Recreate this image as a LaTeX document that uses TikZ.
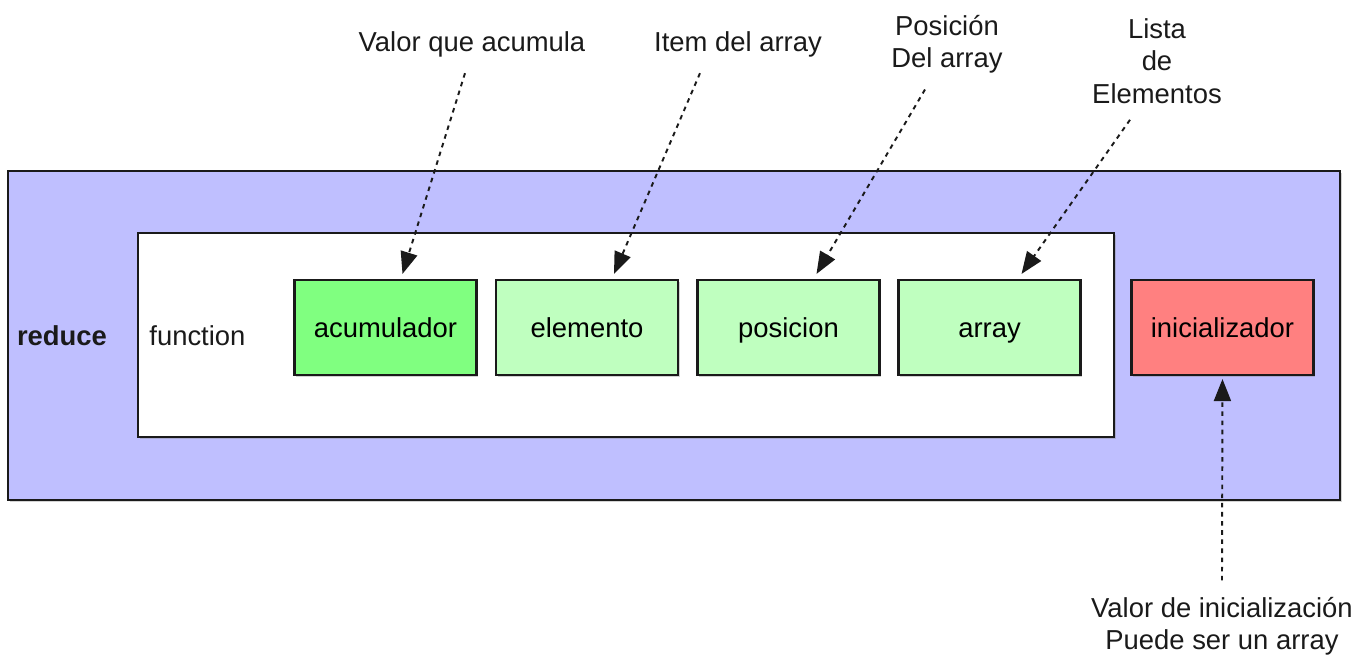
\documentclass[tikz,border=0pt]{standalone}
\usepackage{fontspec}
\setmainfont{Liberation Sans}
\usepackage{tikz}
\usepackage{xcolor}
\usetikzlibrary{arrows.meta,positioning,shadows}
\definecolor{outerfill}{HTML}{BFBFFF}
\definecolor{accfill}{HTML}{80FF80}
\definecolor{argfill}{HTML}{BFFFBF}
\definecolor{initfill}{HTML}{FF8080}
\definecolor{ink}{HTML}{1A1A1A}
\tikzset{
  argbox/.style={draw=ink,line width=0.6pt,minimum width=1.82cm,minimum height=0.95cm,
    inner sep=0pt,text height=1.55ex,text depth=0.45ex,font=\fontsize{7.8}{9.4}\selectfont,
    drop shadow={shadow xshift=0.5pt,shadow yshift=-0.7pt,opacity=0.35}},
  note/.style={font=\fontsize{7.8}{9.2}\selectfont,align=center,color=ink},
  hint/.style={draw=ink,line width=0.55pt,dash pattern=on 1.3pt off 1.3pt,
    -{Triangle[length=2.2mm,width=1.7mm]}}
}
\begin{document}
\begin{tikzpicture}[x=1cm,y=1cm]
    \path[use as bounding box] (0,0) rectangle (13.70,6.55);
    % reduce
    \node[draw=ink,line width=0.6pt,fill=outerfill,minimum width=13.32cm,minimum height=3.29cm,
      drop shadow={shadow xshift=0.5pt,shadow yshift=-0.7pt,opacity=0.35}]
      (reduce) at (6.74,3.195) {};
    \node[font=\fontsize{7.8}{9.4}\selectfont\bfseries,color=ink] (reducelbl) at (0.62,3.19) {reduce};
    % function
    \node[draw=ink,line width=0.6pt,fill=white,minimum width=9.76cm,minimum height=2.04cm,
      drop shadow={shadow xshift=0.5pt,shadow yshift=-0.7pt,opacity=0.35}]
      (function) at (6.26,3.20) {};
    \node[font=\fontsize{7.8}{9.4}\selectfont,color=ink,anchor=west] (functionlbl) at (1.37,3.19) {function};
    % arguments
    \node[argbox,fill=accfill] (acum) at (3.855,3.275) {acumulador};
    \node[argbox,fill=argfill] (elem) at (5.87,3.275) {elemento};
    \node[argbox,fill=argfill] (pos) at (7.885,3.275) {posicion};
    \node[argbox,fill=argfill] (arr) at (9.895,3.275) {array};
    \node[argbox,fill=initfill] (init) at (12.225,3.275) {inicializador};
    % notes
    \node[note] (acumnote) at (4.72,6.11) {Valor que acumula};
    \node[note] (elemnote) at (7.38,6.11) {Item del array};
    \node[note] (posnote) at (9.47,6.11) {Posición\\Del array};
    \node[note] (arrnote) at (11.57,5.94) {Lista\\de\\Elementos};
    \node[note] (initnote) at (12.22,0.29) {Valor de inicialización\\Puede ser un array};
    % hints
    \draw[hint] ([xshift=-0.07cm,yshift=-0.04cm]acumnote.south) -- ([xshift=0.17cm,yshift=0.05cm]acum.north);
    \draw[hint] ([xshift=-0.38cm,yshift=-0.04cm]elemnote.south) -- ([xshift=0.27cm,yshift=0.05cm]elem.north);
    \draw[hint] ([xshift=-0.22cm,yshift=-0.04cm]posnote.south) -- ([xshift=0.28cm,yshift=0.05cm]pos.north);
    \draw[hint] ([xshift=-0.27cm,yshift=-0.04cm]arrnote.south) -- ([xshift=0.32cm,yshift=0.05cm]arr.north);
    \draw[hint] ([yshift=0.04cm]initnote.north) -- ([yshift=-0.03cm]init.south);
  \end{tikzpicture}
\end{document}
